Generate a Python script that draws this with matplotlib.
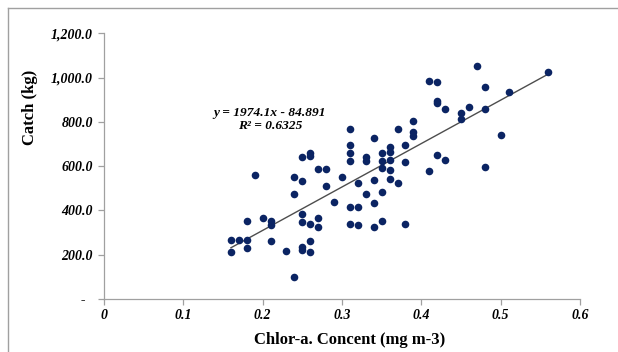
import numpy as np
import matplotlib.pyplot as plt
from matplotlib.ticker import FuncFormatter

# ---------------------------
# Data
# ---------------------------
chl = [0.16, 0.16, 0.17, 0.18, 0.18, 0.18, 0.19, 0.20, 0.21, 0.21, 0.21, 0.23,
       0.24, 0.24, 0.24, 0.25, 0.25, 0.25, 0.25, 0.25, 0.25,
       0.26, 0.26, 0.26, 0.26, 0.26, 0.27, 0.27, 0.27, 0.28, 0.28, 0.29, 0.30,
       0.31, 0.31, 0.31, 0.31, 0.31, 0.31, 0.32, 0.32, 0.32, 0.33, 0.33, 0.33,
       0.34, 0.34, 0.34, 0.34, 0.35, 0.35, 0.35, 0.35, 0.35,
       0.36, 0.36, 0.36, 0.36, 0.36, 0.37, 0.37, 0.38, 0.38, 0.38,
       0.39, 0.39, 0.39, 0.41, 0.41, 0.42, 0.42, 0.42, 0.42, 0.43, 0.43,
       0.45, 0.45, 0.46, 0.47, 0.48, 0.48, 0.48, 0.50, 0.51, 0.56]
catch = [266, 211, 266, 266, 232, 354, 560, 364, 352, 333, 263, 218,
         550, 473, 99, 643, 531, 382, 349, 236, 221,
         658, 647, 337, 263, 211, 586, 364, 325, 586, 512, 438, 552,
         766, 695, 658, 623, 417, 337, 525, 417, 333, 643, 623, 476,
         726, 539, 435, 325, 658, 623, 592, 483, 354,
         685, 665, 628, 584, 542, 766, 522, 694, 620, 340,
         805, 754, 737, 984, 579, 980, 894, 884, 652, 858, 628,
         839, 813, 866, 1054, 957, 858, 596, 739, 935, 1027]

eq_text = "y = 1974.1x - 84.891"
r2_text = "R² = 0.6325"

x = np.array(chl)
y = np.array(catch)

# ---------------------------
# Plot
# ---------------------------
fig = plt.figure(figsize=(6.18, 3.52), dpi=100)
ax = fig.add_axes([104/618, 1 - 299/352, (580 - 104)/618, (299 - 33.3)/352])

ax.scatter(x, y, s=30, color='#0B2463', zorder=3, linewidths=0)

# linear trendline
slope, icpt = np.polyfit(x, y, 1)
xs = np.array([x.min(), x.max()])
ax.plot(xs, slope * xs + icpt, color='#4D4D4D', lw=1.0, zorder=2)

ax.text(0.209, 841, eq_text, ha='center', va='center', fontsize=9.6,
        family='Liberation Serif', weight='bold', style='italic')
ax.text(0.209, 781, r2_text, ha='center', va='center', fontsize=9.6,
        family='Liberation Serif', weight='bold', style='italic')

ax.set_xlim(0, 0.6)
ax.set_ylim(0, 1200)
ax.set_xticks(np.arange(0, 0.61, 0.1))
ax.set_yticks(np.arange(0, 1201, 200))
ax.xaxis.set_major_formatter(FuncFormatter(lambda v, p: '0' if v == 0 else f'{v:.1f}'))
ax.yaxis.set_major_formatter(FuncFormatter(lambda v, p: '-  ' if v == 0 else f'{v:,.1f}'))

for s in ['top', 'right']:
    ax.spines[s].set_visible(False)
for s in ['left', 'bottom']:
    ax.spines[s].set_color('#A0A0A0')
    ax.spines[s].set_linewidth(0.9)

ax.tick_params(colors='#A0A0A0', length=4, width=0.9, labelcolor='black')
ax.tick_params(axis='y', pad=4)
ax.tick_params(axis='x', pad=3.5)
for lbl in ax.get_xticklabels() + ax.get_yticklabels():
    lbl.set_family('Liberation Serif')
    lbl.set_weight('bold')
    lbl.set_style('italic')
    lbl.set_fontsize(10)

fig.text(30/618, 1 - 107/352, 'Catch (kg)', rotation=90, ha='center', va='center',
         fontsize=12, family='Liberation Serif', weight='bold')
fig.text(350/618, 1 - 340/352, 'Chlor-a. Concent (mg m-3)', ha='center', va='center',
         fontsize=12, family='Liberation Serif', weight='bold')

# outer frame of the chart (left and top edges visible)
fig.add_artist(plt.Line2D([8/618, 8/618], [0, 1 - 8/352], color='#A0A0A0', lw=1.0))
fig.add_artist(plt.Line2D([8/618, 1], [1 - 8/352, 1 - 8/352], color='#A0A0A0', lw=1.0))

fig.savefig('out.png', dpi=100)
